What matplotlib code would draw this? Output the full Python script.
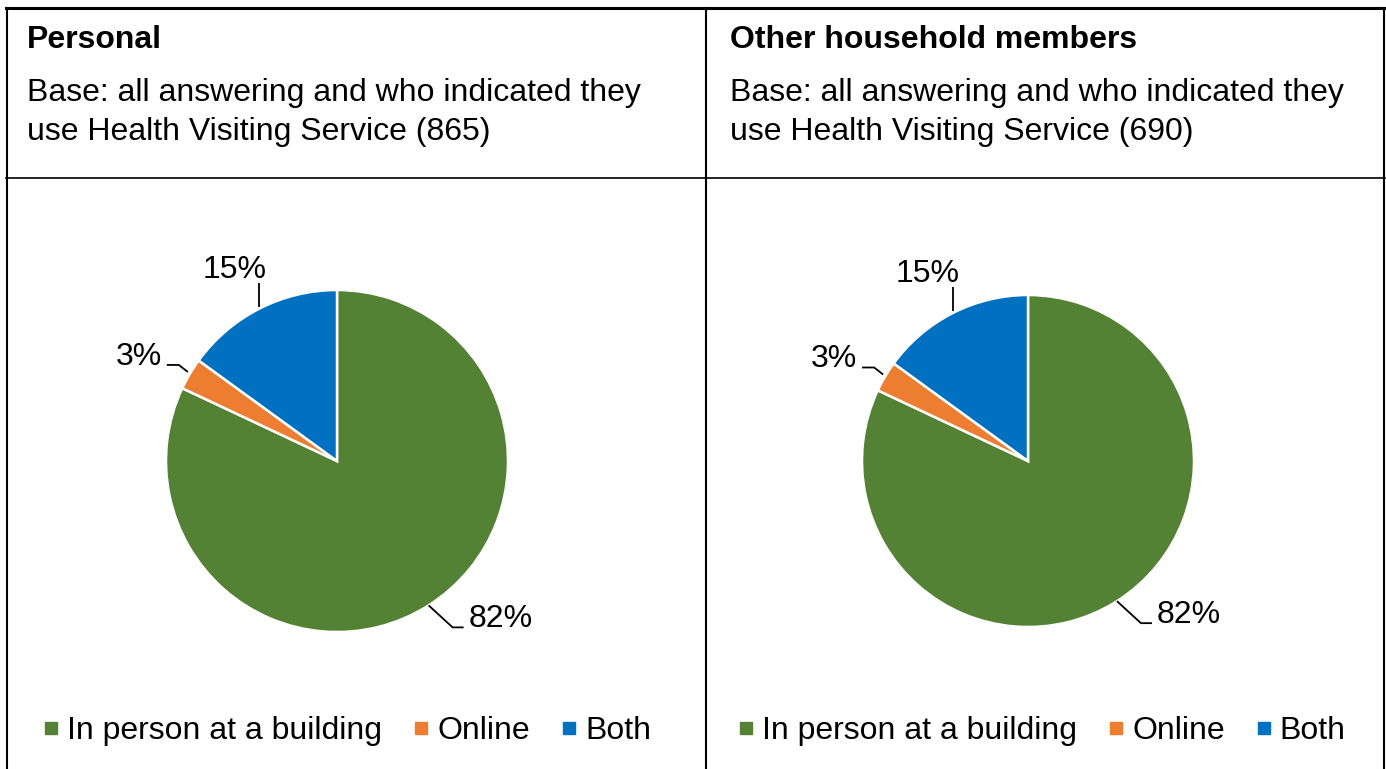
import matplotlib
matplotlib.use('Agg')
import matplotlib.pyplot as plt
from matplotlib.lines import Line2D
import numpy as np

plt.rcParams['font.family'] = ['Liberation Sans', 'DejaVu Sans']

# data
categories = ['In person at a building', 'Online', 'Both']
colors = ['#548235', '#ED7D31', '#0070C0']
panel_titles = ['Personal', 'Other household members']
panel_bases = [865, 690]
personal_pct = [82, 3, 15]
household_pct = [82, 3, 15]

W, H = 1386, 769
FS = 23


def Y(y):
    # image pixel row -> axes y (y up)
    return H - y


fig = plt.figure(figsize=(W / 100, H / 100), dpi=100)
ax = fig.add_axes([0, 0, 1, 1])

# panel layout: (left x of text, pie centre x, pie centre y, radius)
panels = [
    (27, 337, 461, 171, personal_pct),
    (730, 1028, 461, 166, household_pct),
]

# leader lines / label offsets relative to wedge edge point (image px, y down)
leaders = [
    {'pts': [(0, 0), (24, 22), (35, 22)], 'txt': (40, 22), 'ha': 'left'},
    {'pts': [(-2, -2), (-11, -9), (-23, -9)], 'txt': (-28, -9), 'ha': 'right'},
    {'pts': [(0, -2), (0, -26)], 'txt': (-25, -31), 'ha': 'center'},
]

for i, (tx, cx, cy, r, vals) in enumerate(panels):
    wedges, _ = ax.pie(vals, colors=colors, startangle=90, counterclock=False,
                       radius=r, center=(cx, Y(cy)),
                       wedgeprops=dict(edgecolor='white', linewidth=1.8))
    for w, v, ld in zip(wedges, vals, leaders):
        mid = np.deg2rad((w.theta1 + w.theta2) / 2)
        ex = cx + r * np.cos(mid)
        ey = cy - r * np.sin(mid)
        xs = [ex + p[0] for p in ld['pts']]
        ys = [Y(ey + p[1]) for p in ld['pts']]
        ax.plot(xs, ys, color='black', lw=1.3, solid_capstyle='butt')
        ax.text(ex + ld['txt'][0], Y(ey + ld['txt'][1]), f'{v}%',
                ha=ld['ha'], va='baseline', fontsize=FS, color='black')

    # header texts
    ax.text(tx, Y(48), panel_titles[i], fontsize=FS, fontweight='bold',
            ha='left', va='baseline')
    ax.text(tx, Y(101), 'Base: all answering and who indicated they',
            fontsize=FS, ha='left', va='baseline')
    ax.text(tx, Y(140), f'use Health Visiting Service ({panel_bases[i]})',
            fontsize=FS, ha='left', va='baseline')

    # legend
    handles = [Line2D([], [], marker='s', linestyle='none', markersize=8,
                      markerfacecolor=c, markeredgecolor=c) for c in colors]
    lx = [45, 740][i]
    leg = fig.legend(handles, categories, loc='center left',
                     bbox_to_anchor=(lx / W, 1 - 731 / H), ncol=3,
                     frameon=False, fontsize=FS, handlelength=0.4,
                     handletextpad=0.3, columnspacing=1.02,
                     borderaxespad=0, borderpad=0)

# table borders
ax.plot([6, 1385], [Y(8), Y(8)], color='black', lw=2.2)
ax.plot([6, 1385], [Y(178), Y(178)], color='black', lw=1.2)
ax.plot([7, 7], [Y(8), Y(769)], color='black', lw=1.5)
ax.plot([706, 706], [Y(8), Y(769)], color='black', lw=1.5)
ax.plot([1384, 1384], [Y(8), Y(769)], color='black', lw=1.5)

ax.set_xlim(0, W)
ax.set_ylim(0, H)
ax.set_aspect('auto')
ax.axis('off')

fig.savefig('out.png', dpi=100, facecolor='white')
